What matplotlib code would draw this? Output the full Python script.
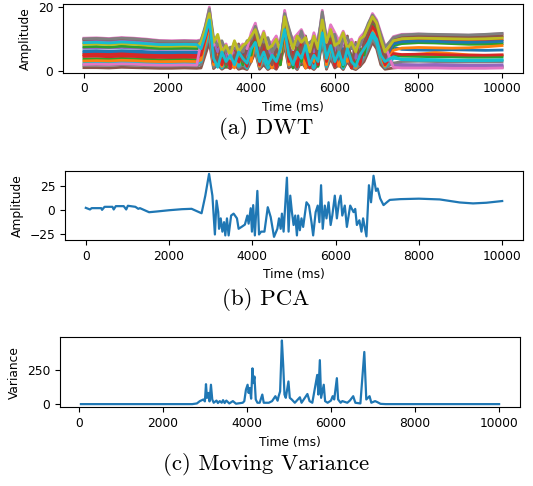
import matplotlib
matplotlib.use("Agg")
import matplotlib.pyplot as plt
import numpy as np

plt.rcParams['font.size'] = 8.8

# ---- (a) DWT: one line per coefficient band ----
dwt_t_pre = [0, 300, 600, 900, 1200, 1500, 1800, 2100, 2400, 2700]
dwt_t_burst = list(range(2800, 7201, 100))
dwt_t_post = [7400, 7600, 8000, 8400, 8800, 9200, 9600, 10000]

dwt_pre = [
    [6.3, 6.4, 6.2, 6.4, 6.3, 6.1, 5.9, 6.0, 6.0, 5.9],
    [5.0, 5.1, 5.0, 5.2, 5.0, 4.9, 4.8, 4.7, 4.8, 4.8],
    [3.8, 3.9, 3.8, 4.0, 3.9, 3.8, 3.6, 3.7, 3.7, 3.6],
    [4.6, 4.7, 4.5, 4.7, 4.6, 4.4, 4.3, 4.3, 4.4, 4.3],
    [7.2, 7.3, 7.2, 7.4, 7.2, 7.0, 6.8, 6.9, 6.9, 6.8],
    [1.1, 1.1, 1.0, 1.2, 1.1, 1.0, 0.9, 0.9, 1.0, 0.9],
    [10.3, 10.4, 10.2, 10.5, 10.3, 10.0, 9.6, 9.5, 9.6, 9.5],
    [1.8, 1.9, 1.8, 2.0, 1.9, 1.7, 1.6, 1.6, 1.7, 1.6],
    [8.8, 8.9, 8.7, 9.0, 8.8, 8.5, 8.2, 8.1, 8.2, 8.1],
    [2.6, 2.7, 2.6, 2.8, 2.7, 2.5, 2.4, 2.4, 2.5, 2.4],
    [5.8, 5.9, 5.7, 5.9, 5.8, 5.6, 5.4, 5.4, 5.5, 5.4],
    [3.2, 3.3, 3.2, 3.4, 3.3, 3.1, 3.0, 3.0, 3.1, 3.0],
    [7.6, 7.7, 7.5, 7.8, 7.6, 7.4, 7.1, 7.1, 7.2, 7.1],
    [5.2, 5.3, 5.2, 5.4, 5.2, 5.0, 4.9, 4.9, 5.0, 4.9],
    [9.6, 9.7, 9.5, 9.8, 9.6, 9.3, 8.9, 8.9, 9.0, 8.9],
    [9.9, 10.1, 9.9, 10.2, 10.0, 9.7, 9.3, 9.2, 9.3, 9.2],
    [2.1, 2.2, 2.1, 2.3, 2.2, 2.0, 1.9, 1.9, 2.0, 1.9],
    [10.1, 10.2, 10.0, 10.3, 10.1, 9.8, 9.4, 9.3, 9.4, 9.3],
    [8.4, 8.5, 8.3, 8.6, 8.4, 8.1, 7.8, 7.8, 7.9, 7.8],
    [8.9, 9.0, 8.8, 9.1, 8.9, 8.6, 8.3, 8.3, 8.4, 8.3],
]

dwt_burst = [
    [6, 10, 15, 5, 6.5, 3, 6, 2, 7, 4, 5.5, 2, 8, 11, 4, 8, 3, 6, 4, 6, 14, 5, 6, 3, 8, 4, 6, 3, 7, 14, 4, 10, 5, 6, 3, 8, 4, 2, 6, 7, 11, 14, 12, 7, 3],
    [4.8, 9.5, 14, 4, 6, 2.5, 5, 1.5, 6, 3, 5, 2, 7, 10, 3, 7, 2, 5, 3, 6, 13, 4, 5, 2, 7, 3, 5, 2, 6, 13, 3, 8, 4, 5, 2, 7, 3, 2, 5, 6, 10, 13, 11, 6, 2],
    [3.5, 8, 13, 3, 2, 4, 1.2, 4, 2, 5, 1, 4, 3, 9, 2, 6, 1, 4, 2, 3, 11, 4, 1, 6, 2, 5, 1, 4, 2, 12, 3, 7, 1.5, 4, 2, 5, 1, 3, 1.5, 4, 9, 12, 10, 4, 1],
    [4.5, 9, 14, 1.5, 5, 2, 4, 1, 5, 2, 4, 1, 6, 10, 1, 6, 1.5, 4, 2, 5, 12, 1.2, 4, 2, 6, 1, 4, 2, 5, 12, 1.5, 7, 2, 5, 1, 6, 2, 1, 5, 6, 10, 13, 11, 5, 1.5],
    [7.5, 11, 16, 6.5, 4, 7, 3, 6, 2.5, 7, 5, 4, 9, 13, 5, 10, 6, 3, 8, 5, 16, 8, 5, 7, 10, 6, 4, 8, 5, 15, 7, 11, 7, 4, 9, 7, 5, 3, 8, 9, 12, 15, 13, 8, 4],
    [1, 5, 9, 0.8, 2, 0.6, 1.5, 0.8, 2, 0.6, 1, 0.5, 3, 6, 0.6, 2, 0.5, 1.5, 0.6, 3, 8, 1, 2, 0.5, 3, 1, 1.5, 0.5, 2, 9, 0.6, 4, 1, 2, 0.5, 3, 1, 0.5, 1.5, 3, 6, 9, 7, 2, 0.6],
    [9.8, 13, 19, 9.5, 10.5, 8, 7, 6, 8, 7.5, 7, 9, 9.5, 13.5, 9.5, 10, 10, 8, 9, 9, 17.5, 13, 9.5, 9, 12, 9, 8.5, 9.5, 9, 17.5, 10, 12, 11, 7, 9, 10, 8, 8, 9, 11, 14, 17, 15, 11, 7],
    [2, 7, 11, 1.2, 3, 1, 2.5, 1, 3, 1, 2, 0.8, 4, 7, 1, 3, 0.8, 2, 1, 4, 9, 1.5, 3, 0.8, 4, 1.5, 2, 0.8, 3, 10, 1, 5, 1.5, 3, 0.8, 4, 1.5, 0.8, 2, 4, 7, 10, 8, 3, 1],
    [8.5, 12, 17, 8, 10, 7, 8, 6, 9, 6.5, 8, 8.5, 10.5, 12.5, 9, 11, 8, 7, 9, 8, 16, 12, 8, 10, 11, 9, 7, 10, 8, 15, 9.5, 12, 9, 8, 11, 8.5, 8, 7, 9, 10, 13, 16, 14, 9, 5],
    [3, 8, 12, 2, 4, 1, 3, 2, 4, 1.5, 3, 1, 5, 8, 1.5, 4, 1, 3, 2, 5, 10, 2, 4, 1, 5, 2, 3, 1, 4, 11, 1.5, 6, 2, 4, 1, 5, 2, 1, 3, 5, 8, 11, 9, 4, 1.2],
    [6, 10, 15, 5, 7, 3, 5, 2, 6, 4, 6, 3, 8, 11, 5, 7, 3, 5, 7, 3, 14, 7, 4, 6, 8, 5, 3, 7, 4, 14, 6, 9, 5, 3, 7, 6, 2, 5, 3, 7, 11, 14, 12, 7, 4],
    [3.5, 9, 14, 2, 5, 1.5, 6, 3, 1, 5, 2, 6, 3, 10, 1.5, 7, 4, 1, 6, 2, 12, 2, 5, 3, 7, 1, 5, 3, 6, 13, 2, 8, 5, 1.5, 6, 3, 5, 1, 4, 6, 10, 13, 11, 5, 1.5],
    [7, 11, 16, 6, 3, 7, 1.5, 5, 3, 7, 2, 8, 5, 12, 3, 9, 2, 7, 4, 2, 15, 6, 1.5, 8, 3, 9, 2, 7, 1.5, 14, 5, 10, 3, 6, 1.5, 9, 4, 2, 7, 5, 12, 15, 13, 7, 3],
    [5, 10, 15, 3, 8, 2, 6, 1, 7, 3, 5, 1.5, 9, 11, 2, 8, 3, 6, 1, 7, 14, 3, 6, 1.2, 9, 4, 1, 8, 2, 14, 3, 9, 1.5, 7, 3, 8, 1, 6, 2, 8, 11, 14, 12, 6, 2],
    [8.5, 12.5, 18, 9, 6, 9, 4, 7, 5, 8, 7, 5, 11, 14, 6, 11, 9, 4, 10, 8, 18.5, 9, 8, 10, 12, 7, 9, 6, 10, 17, 8, 13, 10, 5, 11, 8, 9, 4, 9, 10, 14, 17, 15, 10, 5],
    [8, 12, 17, 7, 3, 8, 2, 6, 4, 8.5, 3, 7, 9, 12, 4, 10, 5, 2, 7, 4, 15, 8, 3, 9, 6, 11, 4, 9, 5, 16, 6, 12, 4, 8, 5, 11, 2, 9, 4, 9, 12, 16, 14, 9, 4],
    [9.3, 13.5, 20, 8, 10, 7, 8.5, 4, 9, 7, 8.5, 7, 12, 15, 9, 12.5, 8, 9, 11, 7, 19, 12, 10, 11.5, 13, 10, 7, 12, 8, 19, 9, 14.5, 12, 9.5, 12.5, 9, 10, 7, 10.5, 12, 14.5, 18, 16, 12, 8],
    [9.5, 14, 19.5, 10.5, 8, 9.5, 6, 7.5, 7, 8, 6, 9.5, 10, 14, 10.5, 9, 10.5, 6, 8, 9.5, 18, 13.5, 9, 8, 12.5, 8, 9, 10, 9.5, 18.5, 10.5, 11, 11.5, 6, 10, 10.5, 7, 8.5, 8, 11.5, 15, 17.5, 15.5, 11.5, 7.5],
    [9, 13, 18, 9, 11.5, 6, 8, 5, 9.5, 6, 8, 9, 11, 13, 8, 12, 7, 8, 10, 6, 17, 11, 7, 11, 9, 10.5, 6, 11, 7, 16, 9, 13, 8, 9, 12, 7, 9, 6, 10, 11, 14, 17, 15, 10, 6],
    [7, 11, 16, 4, 1.2, 6, 3, 5, 2, 6, 4, 2.5, 7, 9, 3, 6, 2, 5, 3, 7, 13, 5, 2, 6, 4, 8, 2, 5, 3, 12, 4, 8, 3, 6, 2, 7, 3, 1.5, 5, 7, 9, 12, 10, 5, 3],
]

dwt_post = [
    [7.5, 6.8, 6.6, 6.5, 6.7, 6.6, 6.5, 6.6],
    [5.5, 5.0, 5.3, 5.8, 5.5, 5.1, 4.9, 5.0],
    [8.0, 8.6, 8.9, 8.8, 8.6, 8.4, 8.4, 8.6],
    [9.0, 9.7, 9.9, 9.8, 9.6, 9.5, 9.6, 9.8],
    [2.5, 2.1, 2.0, 2.1, 2.0, 1.9, 1.9, 2.0],
    [1.0, 1.2, 1.3, 1.2, 1.2, 1.1, 1.1, 1.2],
    [10.8, 11.5, 11.6, 11.4, 11.3, 11.2, 11.4, 11.7],
    [2.5, 3.0, 3.1, 3.0, 2.9, 2.9, 2.9, 3.0],
    [9.8, 10.5, 10.7, 10.6, 10.5, 10.4, 10.5, 10.7],
    [4.0, 3.8, 3.7, 3.6, 3.5, 3.5, 3.5, 3.6],
    [8.5, 9.2, 9.4, 9.3, 9.1, 9.0, 9.1, 9.3],
    [6.5, 7.2, 7.4, 7.3, 7.2, 7.3, 7.6, 8.0],
    [5.0, 4.7, 4.6, 4.5, 4.5, 4.4, 4.4, 4.5],
    [5.5, 5.2, 5.3, 5.2, 5.1, 5.0, 5.0, 5.1],
    [1.8, 1.6, 1.5, 1.5, 1.5, 1.4, 1.4, 1.5],
    [10.2, 10.9, 11.0, 10.9, 10.8, 10.7, 10.8, 11.0],
    [1.2, 1.0, 1.0, 1.0, 0.9, 0.9, 0.9, 1.0],
    [10.5, 11.3, 11.6, 11.5, 11.4, 11.3, 11.5, 11.8],
    [9.5, 10.1, 10.3, 10.2, 10.1, 10.0, 10.1, 10.3],
    [4.5, 3.6, 3.4, 3.4, 3.3, 3.3, 3.3, 3.4],
]

# ---- (b) first principal component ----
pca_t = [0, 100, 140, 370, 390, 450, 640, 670, 720, 910, 970, 1010, 1190, 1260, 1300,
         1520, 1690, 2000, 2310, 2540, 2780, 2870, 2960, 3040, 3100, 3140, 3180, 3200,
         3240, 3280, 3320, 3350, 3390, 3430, 3490, 3550, 3630, 3670, 3740, 3820, 3880,
         3910, 3960, 3990, 4020, 4060, 4120, 4160, 4210, 4290, 4370, 4440, 4520, 4600,
         4640, 4680, 4710, 4750, 4830, 4870, 4910, 4950, 4990, 5030, 5070, 5100, 5140,
         5180, 5220, 5300, 5360, 5420, 5460, 5520, 5570, 5610, 5650, 5690, 5740, 5780,
         5830, 5880, 5920, 5980, 6030, 6080, 6120, 6160, 6220, 6270, 6350, 6430, 6470,
         6510, 6570, 6620, 6660, 6740, 6800, 6850, 6910, 6970, 7010, 7070, 7150, 7230,
         7300, 7550, 8000, 8500, 8980, 9300, 9620, 10000]
pca_amp = [2.1, 0.4, 1.8, 1.8, 0.0, 3.2, 3.2, 0.4, 3.9, 3.9, 0.4, 4.3, 3.2, 1.1, 1.8,
           -2.5, -1.8, -0.4, 0.7, 1.1, -3.6, 15, 38, 15, -26, 9.7, -2.4, -20,
           -9, -23, -13, -27, -9, -27, -6, -4, -9, -20, -18, -15.6, -6,
           -14.6, 1.7, -23, 5, -27, 20, -26, -23, -23, 2.8, -7.6, -28.5, -20,
           -9, -20, -4, -23, 34, -23, 15, -2.4, -16, -6, -27, -6, -21.5,
           -9, -18, 8, 4.5, -13, -27, -2.4, 4.5, -13, 26, -20, 4.5, -9,
           8, -16, -6, 15, -9, 8, 15, -6, 4.5, -18, 4.5, -2.4, 1,
           -16, -11, -23, -9, -28, 26, 8, 36, 20, 22.5, 12, 5, 8,
           10.5, 11.3, 11.8, 11, 7.8, 6.8, 7.5, 9.3]

# ---- (c) moving variance of the PCA signal ----
var_t = [50, 1000, 2000, 2700, 2810, 2880, 2965, 3000, 3026, 3050, 3080, 3110, 3144,
         3175, 3210, 3276, 3310, 3354, 3400, 3432, 3470, 3510, 3580, 3666, 3740, 3900,
         3938, 3977, 4016, 4040, 4070, 4100, 4132, 4155, 4179, 4210, 4250, 4303, 4366,
         4400, 4521, 4599, 4677, 4730, 4755, 4790, 4832, 4863, 4894, 4925, 4988, 5020,
         5066, 5140, 5260, 5300, 5439, 5490, 5556, 5673, 5700, 5735, 5765, 5828, 5860,
         5920, 6000, 6040, 6077, 6140, 6170, 6230, 6270, 6388, 6450, 6529, 6580, 6700,
         6793, 6840, 6918, 6960, 7050, 7100, 7180, 7300, 8000, 9000, 10000]
var_val = [0, 0, 0, 0, 5, 22, 34, 20, 146, 46, 82, 20, 142,
           34, 10, 26, 8, 22, 10, 29, 8, 26, 5, 22, 3, 10,
           22, 106, 142, 82, 118, 40, 262, 154, 202, 34, 10, 10, 70,
           10, 10, 22, 58, 25, 58, 94, 466, 286, 70, 46, 166, 46,
           34, 10, 50, 10, 74, 22, 10, 214, 70, 322, 46, 142, 22,
           10, 26, 58, 34, 190, 34, 10, 22, 10, 26, 58, 10, 5,
           382, 34, 58, 10, 22, 15, 2, 0, 0, 0, 0]

W, H = 533, 486
fig = plt.figure(figsize=(W / 100, H / 100), dpi=100)


def box(left, right, top, bottom):
    return [left / W, 1 - bottom / H, (right - left) / W, (bottom - top) / H]


ax_a = fig.add_axes(box(63, 523, 4, 72.7))
ax_b = fig.add_axes(box(65, 523, 170.7, 240))
ax_c = fig.add_axes(box(60, 520, 337.3, 407.3))

dwt_t = dwt_t_pre + dwt_t_burst + dwt_t_post
for pre, burst, post in zip(dwt_pre, dwt_burst, dwt_post):
    ax_a.plot(dwt_t, pre + burst + post, linewidth=2.0)
ax_a.set_yticks([0, 20])
ax_a.set_ylabel('Amplitude')
ax_a.set_xlabel('Time (ms)')

ax_b.plot(pca_t, pca_amp, color='#1f77b4', linewidth=1.6)
ax_b.set_yticks([-25, 0, 25])
ax_b.set_ylabel('Amplitude')
ax_b.set_xlabel('Time (ms)')

ax_c.plot(var_t, var_val, color='#1f77b4', linewidth=1.6)
ax_c.set_yticks([0, 250])
ax_c.set_ylabel('Variance')
ax_c.set_xlabel('Time (ms)')

for ax in (ax_a, ax_b, ax_c):
    ax.set_xticks([0, 2000, 4000, 6000, 8000, 10000])

cap = dict(fontfamily='cmr10', fontsize=16.5, ha='center', va='center')
fig.text(266 / W, 1 - 128 / H, '(a) DWT', **cap)
fig.text(266 / W, 1 - 299 / H, '(b) PCA', **cap)
fig.text(266 / W, 1 - 464 / H, '(c) Moving Variance', **cap)

fig.savefig('out.png', dpi=100)
